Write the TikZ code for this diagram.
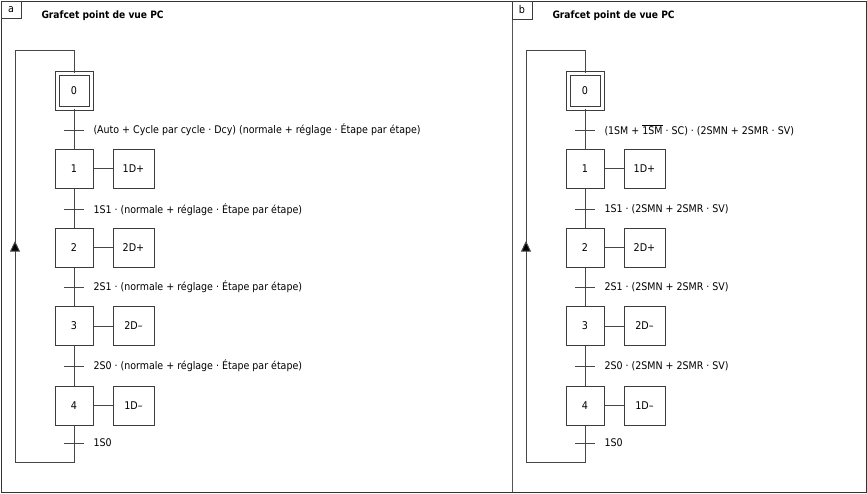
\documentclass[tikz,border=0pt]{standalone}
\usepackage{fontspec}
\setmainfont{DejaVu Sans Condensed}
\usetikzlibrary{arrows.meta}

\tikzset{every picture/.style={line width=0.75pt}}
\tikzset{
  etape/.style={draw={rgb, 255:red, 60; green, 60; blue, 60 }, minimum width=28.5pt, minimum height=29.25pt, inner sep=0pt, font=\fontsize{8}{9.5}\selectfont},
  etapeinit/.style={etape, double, double distance=2.25pt, minimum width=25.5pt, minimum height=26.25pt},
  action/.style={etape, minimum width=30.75pt},
  lien/.style={draw={rgb, 255:red, 70; green, 70; blue, 70 }},
  recept/.style={anchor=west, inner sep=0pt, font=\fontsize{7.9}{9.5}\selectfont},
  titre/.style={anchor=west, inner sep=0pt, font=\fontsize{7.6}{9}\selectfont\bfseries},
  lettrebox/.style={draw={rgb, 255:red, 60; green, 60; blue, 60 }, minimum width=15pt, inner sep=0pt, font=\fontsize{8}{9.5}\selectfont},
  fleche/.style={-{Triangle[width=7.5pt,length=8pt,fill=black]}},
}

\begin{document}
\begin{tikzpicture}[x=0.75pt,y=0.75pt,yscale=-1,xscale=1]
    \useasboundingbox (0,0) rectangle (867,493);

    %Frame
    \draw [draw={rgb, 255:red, 51; green, 51; blue, 51 }] (1,1) rectangle (866,492) ;
    \draw [draw={rgb, 255:red, 85; green, 85; blue, 85 }] (512,1) -- (512,492) ;

    %Panel a
    \begin{scope}[name prefix=a-]
    \node [lettrebox, minimum height=12.75pt] (lettre) at (11,9.5) {a};
    \node [titre] (titre) at (41,16) {Grafcet point de vue PC};
    %Steps
    \node [etapeinit] (s0) at (74,90.5) {0};
    \node [etape] (s1) at (74,168.5) {1};
    \node [etape] (s2) at (74,247.5) {2};
    \node [etape] (s3) at (74,326) {3};
    \node [etape] (s4) at (74,405.5) {4};
    %Actions
    \node [action] (a1) at (133.5,168.5) {1D+};
    \node [action] (a2) at (133.5,247.5) {2D+};
    \node [action] (a3) at (133.5,326) {2D–};
    \node [action] (a4) at (133.5,405.5) {1D–};
    %Transitions
    \coordinate (t0) at (74,130) ;
    \coordinate (t1) at (74,209.5) ;
    \coordinate (t2) at (74,287) ;
    \coordinate (t3) at (74,366) ;
    \coordinate (t4) at (74,443) ;
    \node [recept] (r0) at (93,130) {(Auto + Cycle par cycle · Dcy) (normale + réglage · Étape par étape)};
    \node [recept] (r1) at (93,209.5) {1S1 · (normale + réglage · Étape par étape)};
    \node [recept] (r2) at (93,287) {2S1 · (normale + réglage · Étape par étape)};
    \node [recept] (r3) at (93,366) {2S0 · (normale + réglage · Étape par étape)};
    \node [recept] (r4) at (93,443) {1S0};
    %Loop corners
    \coordinate (hg) at (15,50) ;
    \coordinate (bg) at (15,462) ;
    \coordinate (fl) at (15,241) ;
    %Links
    \draw [lien] (s0) -- (s1) ;
    \draw [lien] (s1) -- (s2) ;
    \draw [lien] (s2) -- (s3) ;
    \draw [lien] (s3) -- (s4) ;
    \draw [lien] (s4.south) |- (bg) -- (hg) -| (s0.north) ;
    \draw [lien, fleche] (bg) -- (fl) ;
    \draw [lien] (s1) -- (a1) ;
    \draw [lien] (s2) -- (a2) ;
    \draw [lien] (s3) -- (a3) ;
    \draw [lien] (s4) -- (a4) ;
    %Ticks
    \draw [lien] ([xshift=-7.5pt]t0) -- ([xshift=7.5pt]t0) ;
    \draw [lien] ([xshift=-7.5pt]t1) -- ([xshift=7.5pt]t1) ;
    \draw [lien] ([xshift=-7.5pt]t2) -- ([xshift=7.5pt]t2) ;
    \draw [lien] ([xshift=-7.5pt]t3) -- ([xshift=7.5pt]t3) ;
    \draw [lien] ([xshift=-7.5pt]t4) -- ([xshift=7.5pt]t4) ;
    \end{scope}

    %Panel b
    \begin{scope}[name prefix=b-, xshift=383.25pt]
    \node [lettrebox, minimum height=13.5pt] (lettre) at (11,10) {b};
    \node [titre] (titre) at (41,16) {Grafcet point de vue PC};
    %Steps
    \node [etapeinit] (s0) at (74,90.5) {0};
    \node [etape] (s1) at (74,168.5) {1};
    \node [etape] (s2) at (74,247.5) {2};
    \node [etape] (s3) at (74,326) {3};
    \node [etape] (s4) at (74,405.5) {4};
    %Actions
    \node [action] (a1) at (133.5,168.5) {1D+};
    \node [action] (a2) at (133.5,247.5) {2D+};
    \node [action] (a3) at (133.5,326) {2D–};
    \node [action] (a4) at (133.5,405.5) {1D–};
    %Transitions
    \coordinate (t0) at (74,130) ;
    \coordinate (t1) at (74,209.5) ;
    \coordinate (t2) at (74,287) ;
    \coordinate (t3) at (74,366) ;
    \coordinate (t4) at (74,443) ;
    \node [recept] (r0) at (93,130) {(1SM + $\overline{\mbox{1SM}}$ · SC) · (2SMN + 2SMR · SV)};
    \node [recept] (r1) at (93,209.5) {1S1 · (2SMN + 2SMR · SV)};
    \node [recept] (r2) at (93,287) {2S1 · (2SMN + 2SMR · SV)};
    \node [recept] (r3) at (93,366) {2S0 · (2SMN + 2SMR · SV)};
    \node [recept] (r4) at (93,443) {1S0};
    %Loop corners
    \coordinate (hg) at (15,50) ;
    \coordinate (bg) at (15,462) ;
    \coordinate (fl) at (15,241) ;
    %Links
    \draw [lien] (s0) -- (s1) ;
    \draw [lien] (s1) -- (s2) ;
    \draw [lien] (s2) -- (s3) ;
    \draw [lien] (s3) -- (s4) ;
    \draw [lien] (s4.south) |- (bg) -- (hg) -| (s0.north) ;
    \draw [lien, fleche] (bg) -- (fl) ;
    \draw [lien] (s1) -- (a1) ;
    \draw [lien] (s2) -- (a2) ;
    \draw [lien] (s3) -- (a3) ;
    \draw [lien] (s4) -- (a4) ;
    %Ticks
    \draw [lien] ([xshift=-7.5pt]t0) -- ([xshift=7.5pt]t0) ;
    \draw [lien] ([xshift=-7.5pt]t1) -- ([xshift=7.5pt]t1) ;
    \draw [lien] ([xshift=-7.5pt]t2) -- ([xshift=7.5pt]t2) ;
    \draw [lien] ([xshift=-7.5pt]t3) -- ([xshift=7.5pt]t3) ;
    \draw [lien] ([xshift=-7.5pt]t4) -- ([xshift=7.5pt]t4) ;
    \end{scope}

\end{tikzpicture}
\end{document}
